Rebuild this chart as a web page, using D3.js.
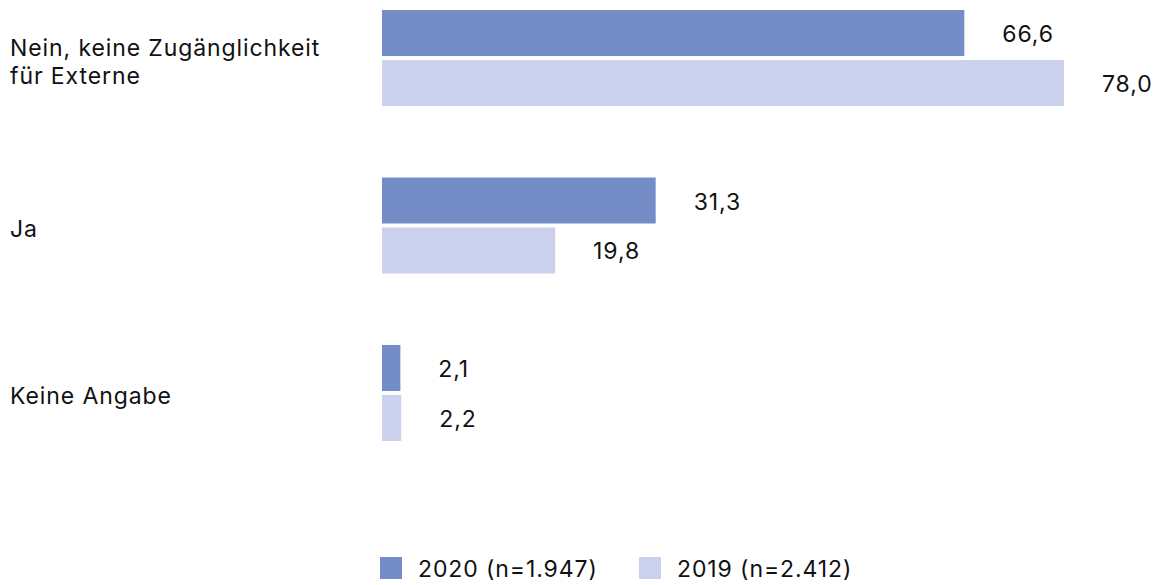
<!DOCTYPE html>
<html>
<head>
<meta charset="utf-8">
<script src="https://cdn.jsdelivr.net/npm/d3@7"></script>
<style>
  body { margin: 0; background: #fff; }
  text { font-family: Inter, "Noto Sans", sans-serif; fill: #111; font-size: 23px; letter-spacing: 0.9px; }
</style>
</head>
<body>
<div id="chart"></div>
<script>
// data
const categories = ['Nein, keine Zugänglichkeit|für Externe', 'Ja', 'Keine Angabe'];
const seriesNames = ['2020 (n=1.947)', '2019 (n=2.412)'];
const values2020 = [66.6, 31.3, 2.1];
const values2019 = [78.0, 19.8, 2.2];
const colours = ['#748dc6', '#cbd0ec'];

const width = 1155;
const height = 585;

const svg = d3.select('#chart')
    .append('svg')
        .attr('width', width)
        .attr('height', height);

const xScale = d3.scaleLinear()
    .domain([0, 78])
    .range([382, 1064]);

const yScale = d3.scaleBand()
    .domain(categories)
    .range([0, 451])
    .paddingInner(0.427)
    .paddingOuter(0.06);

const yInner = d3.scaleBand()
    .domain(seriesNames)
    .range([0, yScale.bandwidth()])
    .paddingInner(0.08);

const rows = categories.map((c, i) => ({
    cat: c,
    vals: [
        { series: seriesNames[0], value: values2020[i] },
        { series: seriesNames[1], value: values2019[i] }
    ]
}));

const fmt = v => d3.format('.1f')(v).replace('.', ',');

// groups
let groups = svg.selectAll('g.group')
    .data(rows)
    .enter()
        .append('g')
            .attr('class', 'group')
            .attr('transform', d => `translate(0, ${yScale(d.cat)})`);

groups.selectAll('rect')
    .data(d => d.vals)
    .enter()
        .append('rect')
            .attr('x', xScale(0))
            .attr('y', d => yInner(d.series))
            .attr('width', d => xScale(d.value) - xScale(0))
            .attr('height', yInner.bandwidth())
            .attr('fill', (d, i) => colours[i]);

groups.selectAll('text.val')
    .data(d => d.vals)
    .enter()
        .append('text')
            .attr('class', 'val')
            .attr('x', d => xScale(d.value) + 38)
            .attr('y', d => yInner(d.series) + yInner.bandwidth() / 2 + 9)
            .text(d => fmt(d.value));

// category labels (lines split on |)
groups.append('text')
    .each(function(d) {
        const lines = d.cat.split('|');
        const t = d3.select(this);
        const first = yScale.bandwidth() / 2 + 11.5 - (lines.length - 1) * 14;
        lines.forEach((line, i) => {
            t.append('tspan')
                .attr('x', 10)
                .attr('y', first + i * 28)
                .text(line);
        });
    });

// legend
const legendX = [380, 639];
let legend = svg.selectAll('g.legend')
    .data(seriesNames)
    .enter()
        .append('g')
            .attr('class', 'legend')
            .attr('transform', (d, i) => `translate(${legendX[i]}, 557)`);

legend.append('rect')
    .attr('width', 22)
    .attr('height', 22)
    .attr('fill', (d, i) => colours[i]);

legend.append('text')
    .attr('x', 38)
    .attr('y', 20)
    .text(d => d);
</script>
</body>
</html>
